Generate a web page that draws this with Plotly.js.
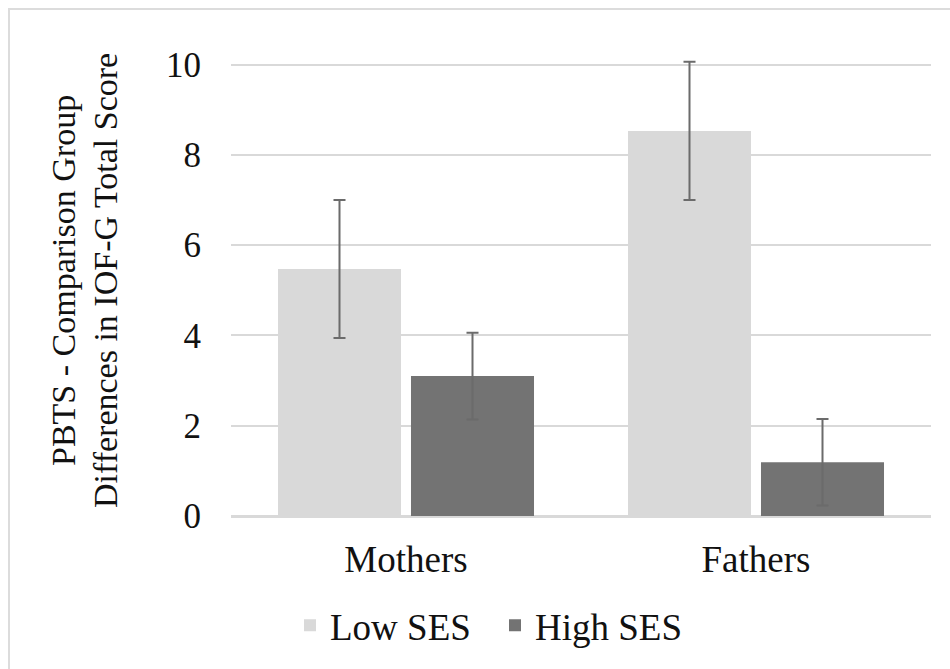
<!DOCTYPE html>
<html>
<head>
<meta charset="utf-8">
<script src="https://cdn.plot.ly/plotly-3.0.1.min.js"></script>
<style>
  html, body { margin: 0; padding: 0; background: #ffffff; }
  #wrap { position: relative; width: 950px; height: 669px; overflow: hidden; }
  #chart { position: absolute; left: 0; top: 0; width: 950px; height: 669px; }
  #frame { position: absolute; left: 8px; top: 8px; width: 960px; height: 680px;
           border-left: 2px solid #dcdcdc; border-top: 2px solid #dcdcdc; pointer-events: none; }
</style>
</head>
<body>
<div id="wrap">
  <div id="chart"></div>
  <div id="frame"></div>
</div>
<script>
// ---- data ----
const categories = ["Mothers", "Fathers"];
const seriesNames = ["Low SES", "High SES"];
const lowSES = [5.47, 8.53];
const highSES = [3.10, 1.19];
const lowSESErr = [1.53, 1.53];
const highSESErr = [0.96, 0.96];
const yTickVals = [0, 2, 4, 6, 8, 10];
const yTitleLines = ["PBTS - Comparison Group", "Differences in IOF-G Total Score"];

// ---- style ----
const FONT = "'Liberation Serif', 'Times New Roman', serif";
const colors = ["#d9d9d9", "#737373"];
const errColor = "#6b6b6b";

const W = 950, H = 669;
const margin = { l: 231, r: 19, t: 60, b: 151 };
const plotW = W - margin.l - margin.r;
const plotH = H - margin.t - margin.b;
const px2x = px => (px - margin.l) / plotW;
const py2y = py => (H - margin.b - py) / plotH;

const traces = [
  {
    type: "bar", name: seriesNames[0], x: categories, y: lowSES,
    marker: { color: colors[0] },
    error_y: { type: "data", array: lowSESErr, visible: true, color: errColor, thickness: 2, width: 6 },
    hoverinfo: "none"
  },
  {
    type: "bar", name: seriesNames[1], x: categories, y: highSES,
    marker: { color: colors[1] },
    error_y: { type: "data", array: highSESErr, visible: true, color: errColor, thickness: 2, width: 6 },
    hoverinfo: "none"
  }
];

const layout = {
  width: W, height: H,
  margin: margin,
  paper_bgcolor: "#ffffff", plot_bgcolor: "#ffffff",
  font: { family: FONT, size: 37, color: "#111111" },
  barmode: "group",
  bargap: 0.24,
  bargroupgap: 0.075,
  showlegend: true,
  legend: {
    orientation: "h",
    x: px2x(290), xanchor: "left",
    y: py2y(597), yanchor: "top",
    entrywidth: 160, entrywidthmode: "pixels",
    font: { family: FONT, size: 37, color: "#111111" },
    bgcolor: "rgba(0,0,0,0)",
    itemclick: false, itemdoubleclick: false
  },
  xaxis: {
    type: "category",
    showgrid: false,
    showline: true, linecolor: "#d9d9d9", linewidth: 2,
    ticks: "", ticklabelstandoff: 10,
    tickfont: { family: FONT, size: 37, color: "#111111" },
    fixedrange: true
  },
  yaxis: {
    range: [0, 10.1],
    tickvals: yTickVals,
    showgrid: true, gridcolor: "#d9d9d9", gridwidth: 2,
    zeroline: true, zerolinecolor: "#d9d9d9", zerolinewidth: 2,
    showline: false, ticks: "",
    ticklabelstandoff: 29,
    tickfont: { family: FONT, size: 35, color: "#111111" },
    fixedrange: true
  },
  annotations: [
    {
      text: yTitleLines[0], textangle: -90, showarrow: false,
      xref: "paper", yref: "paper", x: px2x(63), y: py2y(282),
      xanchor: "center", yanchor: "middle",
      font: { family: FONT, size: 34, color: "#111111" }
    },
    {
      text: yTitleLines[1], textangle: -90, showarrow: false,
      xref: "paper", yref: "paper", x: px2x(105), y: py2y(282),
      xanchor: "center", yanchor: "middle",
      font: { family: FONT, size: 34, color: "#111111" }
    }
  ]
};

Plotly.newPlot("chart", traces, layout, { displayModeBar: false, staticPlot: true });
</script>
</body>
</html>
